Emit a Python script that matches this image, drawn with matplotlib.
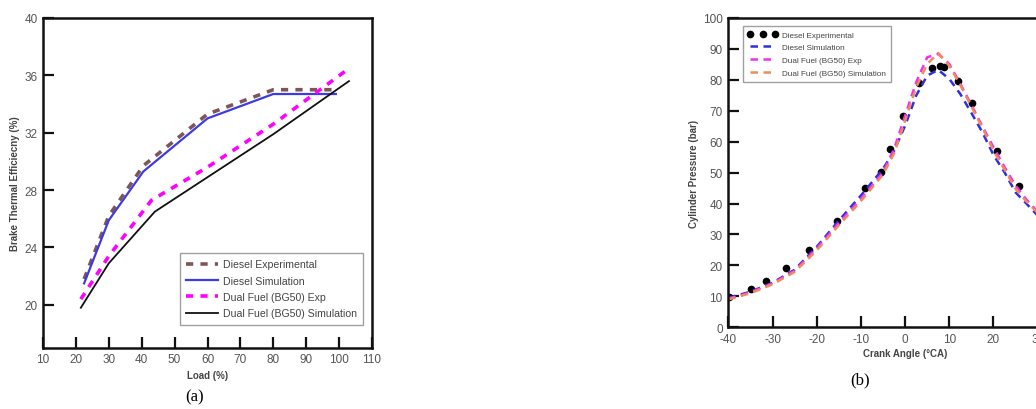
import matplotlib.pyplot as plt

# (a) brake thermal efficiency vs load
load_diesel = [22.5, 30, 40.5, 60, 80, 99]
bte_diesel_exp = [21.8, 26.2, 29.7, 33.3, 35.0, 35.0]
bte_diesel_sim = [21.5, 25.9, 29.3, 33.0, 34.7, 34.7]
load_df_exp = [21.5, 30, 43, 60, 80, 102.5]
bte_df_exp = [20.4, 23.4, 27.3, 29.6, 32.6, 36.4]
load_df_sim = [21.5, 30, 44, 60, 80, 103]
bte_df_sim = [19.8, 22.9, 26.5, 28.9, 31.9, 35.6]

# (b) cylinder pressure vs crank angle
ca_exp = [-39.8, -34.9, -31.5, -27.0, -21.7, -15.4, -9.1, -5.5, -3.4, -0.5,
          3.2, 6.0, 7.8, 8.7, 11.9, 15.1, 20.9, 25.7]
p_diesel_exp = [9.9, 12.4, 15.0, 19.1, 25.1, 34.4, 44.9, 50.2, 57.7, 68.2,
                79.1, 83.7, 84.5, 84.2, 79.7, 72.5, 56.9, 45.6]
ca_sim = [-40, -35, -30, -25, -20, -15, -10, -5, -2.5, 0, 2.5, 5, 7.5, 10,
          12.5, 15, 17.5, 20, 22.5, 25, 27.5, 30]
p_diesel_sim = [9.5, 11.5, 14.4, 18.6, 26.0, 34.5, 42.6, 51.2, 57.0, 65.2,
                74.9, 81.4, 83.2, 80.3, 75.4, 69.3, 63.0, 55.7, 50.1, 43.6,
                39.9, 36.1]
p_df_exp = [9.2, 11.3, 14.2, 18.3, 25.5, 33.7, 41.5, 50.1, 57.6, 68.4,
            79.2, 87.3, 88.4, 85.1, 78.7, 71.9, 64.9, 58.2, 51.8, 45.8,
            41.2, 37.4]
p_df_sim = [9.0, 11.0, 13.9, 17.9, 24.9, 33.0, 40.8, 49.4, 56.2, 66.8,
            77.6, 85.1, 88.7, 84.6, 78.3, 71.4, 64.5, 57.1, 51.0, 44.7,
            40.6, 37.0]

plt.rcParams['font.family'] = ['Liberation Sans', 'DejaVu Sans']
plt.rcParams['axes.unicode_minus'] = False

fig = plt.figure(figsize=(10.36, 4.10), dpi=100)
ax1 = fig.add_axes([0.0415, 0.149, 0.3176, 0.8047])
ax2 = fig.add_axes([0.703, 0.1993, 0.3413, 0.7544])

ax1.plot(load_diesel, bte_diesel_exp, color='#7d5656', lw=2.6, ls=(0, (2, 2)),
         label='Diesel Experimental')
ax1.plot(load_diesel, bte_diesel_sim, color='#3c3ce0', lw=1.6, label='Diesel Simulation')
ax1.plot(load_df_exp, bte_df_exp, color='#ff00ff', lw=2.6, ls=(0, (2, 2)),
         label='Dual Fuel (BG50) Exp')
ax1.plot(load_df_sim, bte_df_sim, color='#111111', lw=1.3,
         label='Dual Fuel (BG50) Simulation')
ax1.set_xlim(10, 110)
ax1.set_ylim(17, 40)
ax1.set_xticks(range(10, 111, 10))
ax1.set_yticks(range(20, 41, 4))
ax1.set_xlabel('Load (%)', fontsize=7, fontweight='bold', color='#444444', labelpad=3)
ax1.set_ylabel('Brake Thermal Efficiecny (%)', fontsize=7, fontweight='bold',
               color='#444444', labelpad=3)
leg1 = ax1.legend(loc='lower right', bbox_to_anchor=(0.973, 0.07), borderaxespad=0,
                  prop={'size': 7.6}, handlelength=3.0, handletextpad=0.5,
                  labelspacing=0.6, fancybox=False, edgecolor='#888888',
                  borderpad=0.6)
for t in leg1.get_texts():
    t.set_color('#444444')

ax2.plot(ca_exp, p_diesel_exp, 'o', color='black', ms=4.5, label='Diesel Experimental')
ax2.plot(ca_sim, p_diesel_sim, color='#2f2fe0', lw=1.8, ls=(0, (3, 2.2)), label='Diesel Simulation')
ax2.plot(ca_sim, p_df_exp, color='#f030f0', lw=1.8, ls=(0, (3, 2.2)), label='Dual Fuel (BG50) Exp')
ax2.plot(ca_sim, p_df_sim, color='#f08a5a', lw=1.8, ls=(0, (3, 2.2)),
         label='Dual Fuel (BG50) Simulation')
ax2.set_xlim(-40, 40)
ax2.set_ylim(0, 100)
ax2.set_xticks(range(-40, 41, 10))
ax2.set_yticks(range(0, 101, 10))
ax2.set_xlabel('Crank Angle (°CA)', fontsize=7, fontweight='bold', color='#444444', labelpad=2)
ax2.set_ylabel('Cylinder Pressure (bar)', fontsize=7, fontweight='bold', color='#444444',
               labelpad=3)
leg2 = ax2.legend(loc='upper left', bbox_to_anchor=(0.0416, 0.974), borderaxespad=0,
                  prop={'size': 5.9}, numpoints=3, handlelength=3.6, handletextpad=0.6,
                  labelspacing=0.6, fancybox=False, edgecolor='#888888',
                  borderpad=0.6)
for t in leg2.get_texts():
    t.set_color('#444444')

for ax in (ax1, ax2):
    for s in ax.spines.values():
        s.set_linewidth(1.8)
        s.set_color('#111111')
    ax.tick_params(direction='in', length=8, width=1.6, color='#111111',
                   labelsize=8.5, labelcolor='#555555', pad=4)

fig.text(0.188, 0.03, '(a)', fontsize=12, family='Liberation Serif', ha='center', va='center')
fig.text(0.83, 0.072, '(b)', fontsize=12, family='Liberation Serif', ha='center', va='center')

fig.savefig('out.png', dpi=100)
